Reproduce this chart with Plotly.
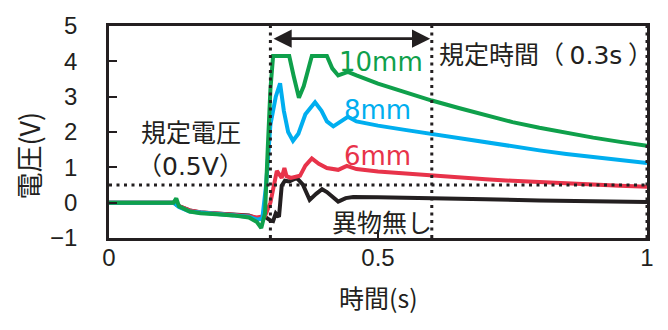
import plotly.graph_objects as go

# --- data ---
t_10mm = [0, 0.12, 0.125, 0.13, 0.15, 0.17, 0.2, 0.23, 0.26, 0.275, 0.283, 0.29, 0.295, 0.30, 0.305,
          0.335, 0.343, 0.353, 0.362, 0.377, 0.405, 0.415, 0.426, 0.437, 0.444, 0.46, 0.5, 0.55,
          0.6, 0.65, 0.7, 0.75, 0.8, 0.85, 0.9, 0.95, 1.0]
v_10mm = [0, 0, 0.12, -0.1, -0.25, -0.3, -0.33, -0.36, -0.42, -0.55, -0.72, -0.3, 1.5, 3.2, 4.15,
          4.15, 3.6, 2.97, 3.3, 4.15, 4.15, 3.8, 3.6, 3.68, 3.7, 3.6, 3.37, 3.13,
          2.89, 2.68, 2.47, 2.28, 2.12, 1.97, 1.84, 1.72, 1.61]

t_8mm = [0, 0.12, 0.13, 0.15, 0.17, 0.2, 0.23, 0.26, 0.275, 0.285, 0.292, 0.30, 0.31, 0.318,
         0.325, 0.333, 0.342, 0.352, 0.365, 0.383, 0.395, 0.405, 0.417, 0.43, 0.444, 0.46,
         0.5, 0.55, 0.6, 0.65, 0.7, 0.75, 0.8, 0.85, 0.9, 0.95, 1.0]
v_8mm = [0, 0, -0.12, -0.25, -0.28, -0.32, -0.35, -0.4, -0.48, -0.45, 0.5, 2.2, 3.0, 3.38,
         2.6, 2.0, 1.75, 1.95, 2.5, 2.84, 2.6, 2.3, 2.16, 2.3, 2.43, 2.3,
         2.18, 2.06, 1.94, 1.82, 1.7, 1.59, 1.48, 1.38, 1.29, 1.2, 1.12]

t_6mm = [0, 0.12, 0.13, 0.15, 0.17, 0.2, 0.23, 0.26, 0.275, 0.29, 0.30, 0.312, 0.321, 0.326,
         0.33, 0.338, 0.355, 0.365, 0.377, 0.39, 0.405, 0.426, 0.442, 0.46, 0.5, 0.55, 0.6,
         0.65, 0.7, 0.75, 0.8, 0.85, 0.9, 0.95, 1.0]
v_6mm = [0, 0, -0.1, -0.22, -0.27, -0.3, -0.33, -0.38, -0.42, -0.38, 0.0, 0.9, 0.7, 0.98,
         0.75, 0.7, 0.76, 1.05, 1.25, 1.1, 0.98, 0.93, 1.04, 0.95, 0.88, 0.82, 0.76,
         0.71, 0.66, 0.62, 0.58, 0.54, 0.51, 0.48, 0.45]

t_none = [0, 0.12, 0.13, 0.15, 0.17, 0.2, 0.23, 0.26, 0.275, 0.29, 0.30, 0.305, 0.31, 0.316,
          0.321, 0.327, 0.335, 0.349, 0.36, 0.373, 0.385, 0.396, 0.405, 0.426, 0.44, 0.454,
          0.5, 0.55, 0.6, 0.7, 0.8, 0.9, 1.0]
v_none = [0, 0, -0.1, -0.22, -0.28, -0.3, -0.33, -0.36, -0.45, -0.4, -0.5, -0.52, -0.3, -0.4,
          0.48, 0.62, 0.6, 0.7, 0.52, 0.08, 0.25, 0.38, 0.3, 0.03, 0.13, 0.16,
          0.15, 0.14, 0.12, 0.1, 0.06, 0.04, 0.02]

threshold_v = 0.5
window_start = 0.3
window_end = 0.6

x_ticks = [0, 0.5, 1]
x_ticktext = ["0", "0.5", "1"]
y_ticks = [-1, 0, 1, 2, 3, 4, 5]

TXT = "#231f20"
JP = "Noto Sans CJK JP"
NUM = "Liberation Sans, Arial, sans-serif"
LAT = "DejaVu Sans"


def lat(s):
    return f'<span style="font-family:{LAT}">{s}</span>'


fig = go.Figure()
series = [
    (t_none, v_none, "#231f20", "異物無し"),
    (t_6mm, v_6mm, "#e8334a", "6mm"),
    (t_8mm, v_8mm, "#00aeef", "8mm"),
    (t_10mm, v_10mm, "#0fa04b", "10mm"),
]
for tx, vy, col, name in series:
    fig.add_trace(go.Scatter(x=tx, y=vy, mode="lines", name=name,
                             line=dict(color=col, width=4), showlegend=False))

dot = dict(color=TXT, width=3, dash="3px,4.5px")
shapes = [
    dict(type="line", xref="x", yref="y", x0=0, x1=1, y0=threshold_v, y1=threshold_v, line=dot),
    dict(type="line", xref="x", yref="y", x0=window_start, x1=window_start, y0=-1, y1=5, line=dot),
    dict(type="line", xref="x", yref="y", x0=window_end, x1=window_end, y0=-1, y1=5, line=dot),
    dict(type="line", xref="x", yref="y", x0=1, x1=1, y0=-1, y1=5, line=dot),
]

ann = [
    dict(x=0.152, y=2.02, text="規定電圧", showarrow=False, font=dict(family=JP, size=25, color=TXT)),
    dict(x=0.152, y=1.1, text="（" + lat("0.5V") + "）", showarrow=False,
         font=dict(family=JP, size=25, color=TXT)),
    dict(x=0.609, y=4.25, text="規定時間（ " + lat("0.3s") + " ）", showarrow=False, xanchor="left",
         font=dict(family=JP, size=25, color=TXT)),
    dict(x=0.424, y=3.98, text=lat("10mm"), showarrow=False, xanchor="left",
         font=dict(family=JP, size=26, color="#0fa04b")),
    dict(x=0.433, y=2.62, text=lat("8mm"), showarrow=False, xanchor="left",
         font=dict(family=JP, size=26, color="#00aeef")),
    dict(x=0.433, y=1.31, text=lat("6mm"), showarrow=False, xanchor="left",
         font=dict(family=JP, size=26, color="#e8334a")),
    dict(x=0.411, y=-0.52, text="異物無し", showarrow=False, xanchor="left",
         font=dict(family=JP, size=25, color=TXT)),
    dict(x=window_end - 0.003, y=4.64, ax=window_start + 0.003, ay=4.64, axref="x", ayref="y",
         text="", showarrow=True, arrowhead=2, arrowside="end+start", arrowsize=1.3,
         arrowwidth=2.8, arrowcolor=TXT, standoff=0, startstandoff=0),
    dict(xref="paper", yref="paper", x=0.5, y=-0.28, text="時間(s)", showarrow=False,
         xanchor="center", yanchor="middle", font=dict(family=JP, size=25, color=TXT)),
    dict(xref="paper", yref="paper", x=-0.15, y=0.39, text="電圧(V)", showarrow=False,
         xanchor="center", yanchor="middle",
         textangle=-90, font=dict(family=JP, size=27, color=TXT)),
]

fig.update_layout(
    width=668, height=330,
    margin=dict(l=109, r=21, t=18, b=92),
    paper_bgcolor="white", plot_bgcolor="white",
    shapes=shapes, annotations=ann,
    xaxis=dict(range=[0, 1], tickvals=x_ticks, ticktext=x_ticktext, ticks="inside", ticklen=8,
               tickwidth=2, tickcolor=TXT, showgrid=False, zeroline=False,
               showline=True, mirror=True, linewidth=2.5, linecolor=TXT,
               tickfont=dict(family=NUM, size=24, color=TXT), ticklabelstandoff=-4),
    yaxis=dict(range=[-1, 5], tickvals=y_ticks, ticks="inside", ticklen=8,
               tickwidth=2, tickcolor=TXT, showgrid=False, zeroline=False,
               showline=True, mirror=True, linewidth=2.5, linecolor=TXT,
               tickfont=dict(family=NUM, size=24, color=TXT), ticklabelstandoff=24),
)

fig.write_html("out.html")
